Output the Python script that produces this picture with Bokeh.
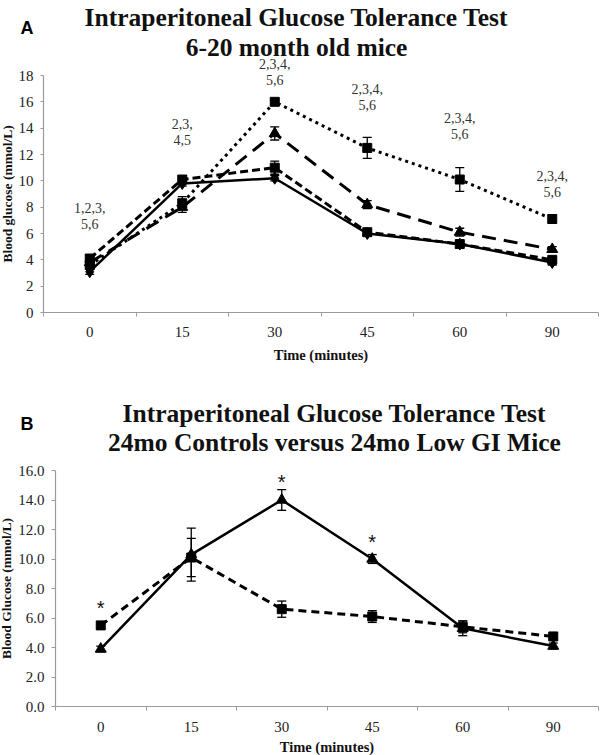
from bokeh.plotting import figure
from bokeh.models import (Range1d, LinearAxis, FixedTicker, SingleIntervalTicker, Whisker,
                          TeeHead, ColumnDataSource, Label, NumeralTickFormatter)
from bokeh.layouts import column
from bokeh.core.properties import value
from bokeh.embed import file_html
from bokeh.resources import INLINE

# ---------------- data ----------------
times = ["0", "15", "30", "45", "60", "90"]

# Panel A : 6-20 month old mice
a_solid = [3.1, 9.8, 10.2, 6.0, 5.2, 3.8]
a_solid_err = [0.2, 0.2, 0.2, 0.2, 0.2, 0.2]
a_short = [4.1, 10.1, 11.0, 6.1, 5.2, 4.0]
a_short_err = [0.3, 0.3, 0.5, 0.2, 0.2, 0.2]
a_long = [3.8, 8.0, 13.6, 8.2, 6.1, 4.8]
a_long_err = [0.3, 0.4, 0.5, 0.3, 0.3, 0.2]
a_dot = [3.6, 8.3, 16.0, 12.5, 10.1, 7.1]
a_dot_err = [0.3, 0.5, 0.2, 0.8, 0.9, 0.3]
a_sig_line1 = ["1,2,3,", "2,3,", "2,3,4,", "2,3,4,", "2,3,4,", "2,3,4,"]
a_sig_line2 = ["5,6", "4,5", "5,6", "5,6", "5,6", "5,6"]
a_sig_y = [7.97, 14.35, 18.91, 17.0, 14.8, 10.4]

# Panel B : 24mo controls versus 24mo Low GI
b_solid = [3.9, 10.3, 14.0, 10.0, 5.3, 4.1]
b_solid_err = [0.2, 1.8, 0.7, 0.3, 0.5, 0.2]
b_dash = [5.5, 10.1, 6.6, 6.1, 5.4, 4.75]
b_dash_err = [0.2, 1.3, 0.55, 0.4, 0.4, 0.2]
b_star_times = ["0", "30", "45"]
b_star_y = [6.7, 15.2, 11.15]

SERIF = "Liberation Serif"
SANS = "Liberation Sans"
W = 600
NCAT = len(times)
xpos = [i + 0.5 for i in range(NCAT)]
AXIS_GREY = "#9a9a9a"


class Panel:
    """A figure whose frame fills the whole canvas; axes sit at fixed data locations."""

    def __init__(self, height, x0_px, x1_px, y0_px, ytop_px, ytop_val):
        self.x0, self.y0 = x0_px, y0_px
        self.sx = (x1_px - x0_px) / NCAT
        self.sy = (y0_px - ytop_px) / ytop_val
        self.p = figure(width=W, height=height,
                        x_range=Range1d(self.X(0), self.X(W)),
                        y_range=Range1d(self.Y(height), self.Y(0)),
                        output_backend="svg", toolbar_location=None,
                        x_axis_location=None, y_axis_location=None, min_border=0)
        self.p.outline_line_color = None
        self.p.grid.grid_line_color = None
        self.ytop_val = ytop_val

    def X(self, px):
        return (px - self.x0) / self.sx

    def Y(self, py):
        return (self.y0 - py) / self.sy

    def axes(self, ylabel, fmt, ytick_out, ytick_standoff, ylabel_standoff,
             xtick_standoff, xlabel_standoff):
        xa = LinearAxis(ticker=FixedTicker(ticks=xpos, minor_ticks=list(range(NCAT + 1))),
                        major_label_overrides={x: t for x, t in zip(xpos, times)},
                        fixed_location=0, bounds=(0, NCAT))
        xa.axis_line_color = AXIS_GREY
        xa.axis_line_width = 1.2
        xa.major_tick_line_color = None
        xa.major_tick_out = 0
        xa.major_tick_in = 0
        xa.minor_tick_line_color = AXIS_GREY
        xa.minor_tick_out = 4
        xa.minor_tick_in = 0
        xa.major_label_text_font = SERIF
        xa.major_label_text_font_size = "15px"
        xa.major_label_text_color = "#222222"
        xa.major_label_standoff = xtick_standoff
        xa.axis_label = "Time (minutes)"
        xa.axis_label_text_font = SERIF
        xa.axis_label_text_font_size = "14.5px"
        xa.axis_label_text_font_style = "bold"
        xa.axis_label_text_color = "#111111"
        xa.axis_label_standoff = xlabel_standoff
        self.p.add_layout(xa, "below")

        ya = LinearAxis(ticker=SingleIntervalTicker(interval=2),
                        formatter=NumeralTickFormatter(format=fmt),
                        fixed_location=0, bounds=(0, self.ytop_val))
        ya.axis_line_color = AXIS_GREY
        ya.axis_line_width = 1.2
        ya.major_tick_line_color = AXIS_GREY
        ya.major_tick_out = ytick_out
        ya.major_tick_in = 0
        ya.minor_tick_line_color = None
        ya.major_label_text_font = SERIF
        ya.major_label_text_font_size = "15px"
        ya.major_label_text_color = "#222222"
        ya.major_label_standoff = ytick_standoff
        ya.axis_label = ylabel
        ya.axis_label_text_font = SERIF
        ya.axis_label_text_font_size = "13.5px"
        ya.axis_label_text_font_style = "bold"
        ya.axis_label_text_color = "#111111"
        ya.axis_label_standoff = ylabel_standoff
        self.p.add_layout(ya, "left")

    def label(self, px, py, text, size, font=SERIF, align="center", color="#111111"):
        self.p.add_layout(Label(x=self.X(px), y=self.Y(py), text=text, text_font=font,
                                text_font_size=size, text_font_style="bold",
                                text_align=align, text_baseline="alphabetic",
                                text_color=color))

    def series(self, vals, errs, dash, width, marker, msize):
        p = self.p
        p.line(xpos, vals, line_color="black", line_width=width, line_dash=dash)
        src = ColumnDataSource(dict(x=xpos,
                                    upper=[v + e for v, e in zip(vals, errs)],
                                    lower=[v - e for v, e in zip(vals, errs)]))
        p.add_layout(Whisker(source=src, base="x", upper="upper", lower="lower",
                             line_color="black", line_width=1.3,
                             upper_head=TeeHead(size=9, line_color="black", line_width=1.3),
                             lower_head=TeeHead(size=9, line_color="black", line_width=1.3)))
        p.scatter(xpos, vals, marker=marker, size=msize, fill_color="black", line_color="black")


# ---------------- Panel A ----------------
A = Panel(365, 43, 598, 312, 75, 18)
A.axes("Blood glucose (mmol/L)", "0", ytick_out=3, ytick_standoff=6, ylabel_standoff=1,
       xtick_standoff=10, xlabel_standoff=7)
A.series(a_solid, a_solid_err, "solid", 2.5, "diamond", 12)
A.series(a_short, a_short_err, "8 4", 3, "square", 9)
A.series(a_long, a_long_err, "14 8", 3, "triangle", 11)
A.series(a_dot, a_dot_err, "3 4", 3, "square", 9)

sig_src = ColumnDataSource(dict(x=xpos, y1=a_sig_y, y2=[y - 16 / A.sy for y in a_sig_y],
                                t1=a_sig_line1, t2=a_sig_line2))
for ycol, tcol in (("y1", "t1"), ("y2", "t2")):
    A.p.text(x="x", y=ycol, text=tcol, source=sig_src, text_font=value(SERIF),
             text_font_size="14px", text_align="center", text_baseline="middle",
             text_color="#333333")

A.label(296, 17, "Intraperitoneal Glucose Tolerance Test", "25.5px")
A.label(296, 47, "6-20 month old mice", "25.5px")
A.label(20, 27, "A", "18px", font=SANS, align="left", color="black")

# ---------------- Panel B ----------------
B = Panel(390, 55, 598, 341, 105, 16)
B.axes("Blood Glucose (mmol/L)", "0.0", ytick_out=4, ytick_standoff=7, ylabel_standoff=1,
       xtick_standoff=11, xlabel_standoff=4)
B.series(b_solid, b_solid_err, "solid", 2.5, "triangle", 11)
B.series(b_dash, b_dash_err, "8 5", 3, "square", 9)

star_src = ColumnDataSource(dict(x=[xpos[times.index(t)] for t in b_star_times], y=b_star_y,
                                 t=["*"] * len(b_star_times)))
B.p.text(x="x", y="y", text="t", source=star_src, text_font=value(SANS), text_font_size="20px",
         text_align="center", text_baseline="middle", text_color="#111111")

B.label(334, 48, "Intraperitoneal Glucose Tolerance Test", "25.5px")
B.label(334, 77, "24mo Controls versus 24mo Low GI Mice", "25.5px")
B.label(20, 58, "B", "18px", font=SANS, align="left", color="black")

layout = column(A.p, B.p)
open("out.html", "w").write(file_html(layout, INLINE))
